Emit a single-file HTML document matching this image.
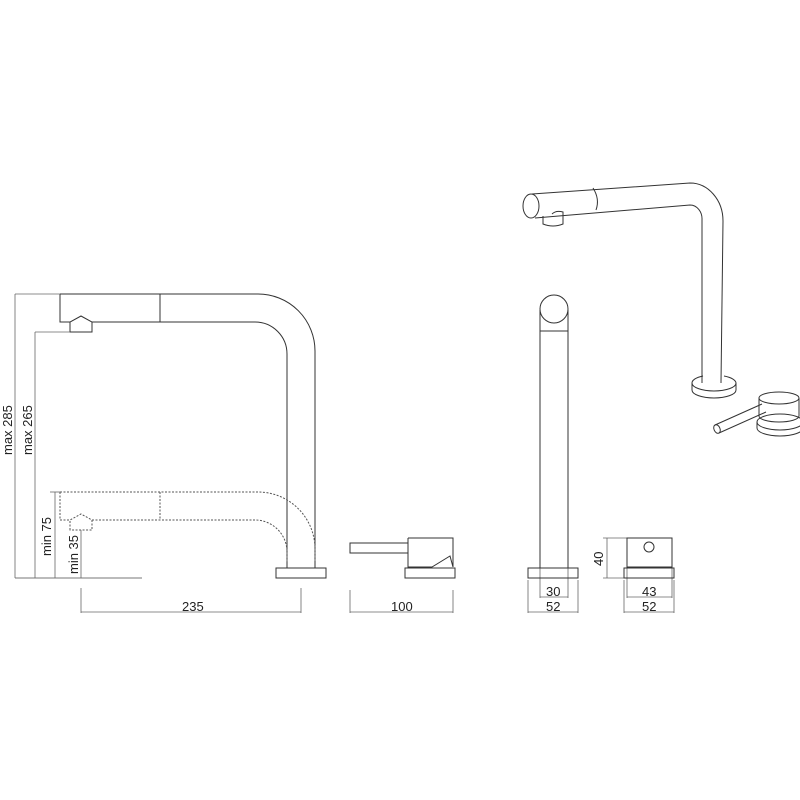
<!DOCTYPE html>
<html><head><meta charset="utf-8"><style>
html,body{margin:0;padding:0;background:#fff}
svg{display:block}
text{font-family:"Liberation Sans",sans-serif;font-size:13px;fill:#222}
</style></head><body>
<svg width="800" height="800" viewBox="0 0 800 800" xmlns="http://www.w3.org/2000/svg">
<g fill="none" stroke="#333" stroke-width="1">
<!-- left faucet -->
<path d="M60 294 H258 A57 57 0 0 1 315 351 V568"/>
<path d="M60 294 V322 H70 M92 322 H255 A32 32 0 0 1 287 354 V568"/>
<line x1="160" y1="294" x2="160" y2="322"/>
<path d="M70 332 V322 L81 316 L92 322 V332 Z"/>
<rect x="276" y="568" width="50" height="10"/>
<line x1="15" y1="578" x2="142" y2="578" stroke="#777"/>
<!-- dotted spout -->
<g stroke-dasharray="2,1.5" stroke="#555">
<path d="M60 492 H258 A57 57 0 0 1 315 549 V562"/>
<path d="M60 492 V520 H70 M92 520 H255 A32 32 0 0 1 287 552 V562"/>
<line x1="160" y1="492" x2="160" y2="520"/>
<path d="M70 530 V520 L81 514 L92 520 V530 Z"/>
</g>
<!-- dims left -->
<g stroke="#666" stroke-width="0.8">
<line x1="15" y1="294" x2="60" y2="294"/>
<line x1="15" y1="294" x2="15" y2="578"/>
<line x1="35" y1="332" x2="70" y2="332"/>
<line x1="35" y1="332" x2="35" y2="578"/>
<line x1="50" y1="492" x2="60" y2="492"/>
<line x1="55" y1="492" x2="55" y2="578"/>
<line x1="81" y1="530" x2="81" y2="578"/>
<line x1="81" y1="588" x2="81" y2="613"/>
<line x1="301" y1="588" x2="301" y2="613"/>
<line x1="81" y1="612" x2="301" y2="612"/>
<line x1="350" y1="590" x2="350" y2="613"/>
<line x1="453" y1="590" x2="453" y2="613"/>
<line x1="350" y1="612" x2="453" y2="612"/>
<line x1="540" y1="568" x2="540" y2="598"/>
<line x1="568" y1="568" x2="568" y2="598"/>
<line x1="540" y1="597" x2="568" y2="597"/>
<line x1="528" y1="580" x2="528" y2="613"/>
<line x1="578" y1="580" x2="578" y2="613"/>
<line x1="528" y1="612" x2="578" y2="612"/>
<line x1="627" y1="568" x2="627" y2="598"/>
<line x1="672" y1="568" x2="672" y2="598"/>
<line x1="627" y1="597" x2="672" y2="597"/>
<line x1="624" y1="580" x2="624" y2="613"/>
<line x1="674" y1="580" x2="674" y2="613"/>
<line x1="624" y1="612" x2="674" y2="612"/>
<line x1="603" y1="538" x2="627" y2="538"/>
<line x1="603" y1="578" x2="624" y2="578"/>
<line x1="607" y1="538" x2="607" y2="578"/>
</g>
<!-- middle lever -->
<rect x="350" y="543" width="58" height="10"/>
<path d="M408 538 H453 V567 M408 538 V567 H432 L450 556 L453 567"/>
<rect x="405" y="568" width="50" height="10"/>
<!-- pole -->
<path d="M540 568 V310 M568 568 V310 M540 331 H568"/>
<circle cx="554" cy="309" r="14" fill="#fff"/>
<rect x="528" y="568" width="50" height="10"/>
<!-- knob -->
<rect x="627" y="538" width="45" height="29"/>
<circle cx="649" cy="547" r="5"/>
<rect x="624" y="568" width="50" height="10"/>
<!-- iso faucet -->
<path d="M532 194 L690 183 A33 38 0 0 1 723 221 L721 383"/>
<path d="M535 218 L690 205 A12 14 0 0 1 702 220 L702 383"/>
<path d="M593 188 Q600 199 596 210"/>
<ellipse cx="531" cy="206" rx="8" ry="12" fill="#fff"/>
<path d="M543 216 V224 Q553 228 563 224 V212 Q556 210 552 214"/>
<path d="M692 383 V390 A22 8 0 0 0 736 390 V383"/>
<path d="M692 383 A22 8 0 0 0 736 383 A22 8 0 0 0 724 376 M692 383 A22 8 0 0 1 703 376"/>
<!-- iso knob -->
<path d="M757 422 V428 A23 8 0 0 0 803 428 V422"/>
<path d="M757 422 A23 8 0 0 0 803 422 A23 8 0 0 0 757 422"/>
<path d="M759 398 V416 A20 6 0 0 0 799 416 V398"/>
<ellipse cx="779" cy="398" rx="20" ry="6" fill="#fff"/>
<path d="M762 404 L715 425 M766 412 L719 433"/>
<ellipse cx="717" cy="429" rx="3" ry="4.5" transform="rotate(-24 717 429)"/>
</g>
<text x="0" y="0" transform="translate(12 455) rotate(-90)">max 285</text>
<text x="0" y="0" transform="translate(32 455) rotate(-90)">max 265</text>
<text x="0" y="0" transform="translate(51 556) rotate(-90)">min 75</text>
<text x="0" y="0" transform="translate(78 574) rotate(-90)">min 35</text>
<text x="182" y="611">235</text>
<text x="391" y="611">100</text>
<text x="546" y="596">30</text>
<text x="546" y="611">52</text>
<text x="642" y="596">43</text>
<text x="642" y="611">52</text>
<text x="0" y="0" transform="translate(603 566) rotate(-90)">40</text>
</svg>
</body></html>
